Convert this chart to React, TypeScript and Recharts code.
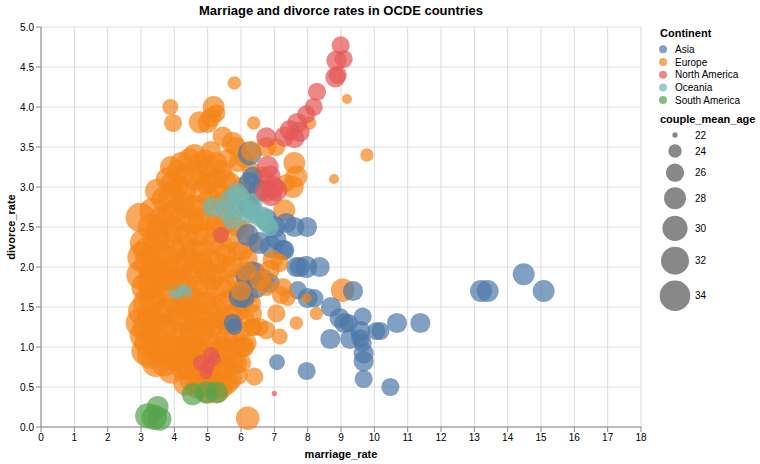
import React from 'react';
import { ScatterChart, Scatter, XAxis, YAxis, ZAxis, CartesianGrid, Legend, Label } from 'recharts';

type P = [number, number, number];

const continents = ['Asia', 'Europe', 'North America', 'Oceania', 'South America'];
const colors = ['#4c78a8', '#f58518', '#e45756', '#72b7b2', '#54a24b'];
const sizeLegendAges = [22, 24, 26, 28, 30, 32, 34];
const xTicks = [0, 1, 2, 3, 4, 5, 6, 7, 8, 9, 10, 11, 12, 13, 14, 15, 16, 17, 18];
const yTicks = [0, 0.5, 1, 1.5, 2, 2.5, 3, 3.5, 4, 4.5, 5];

// [marriage_rate, divorce_rate, couple_mean_age]
const europe: P[] = [
  [2.98, 2.62, 33], [3.1, 2.3, 33], [3.05, 2.12, 34], [3.2, 2.2, 32], [3.0, 1.9, 33], [3.15, 1.75, 33],
  [3.05, 1.45, 33], [3.0, 1.3, 34], [3.1, 1.15, 33], [3.15, 0.95, 33], [3.3, 0.9, 32], [3.3, 1.35, 32],
  [3.35, 1.6, 31], [3.4, 1.95, 32], [3.3, 2.5, 31], [3.45, 2.35, 31], [3.5, 1.1, 32], [3.45, 0.8, 32],
  [3.6, 2.6, 30], [3.7, 2.85, 30], [3.8, 2.4, 31], [3.6, 2.15, 31], [3.75, 1.95, 31], [3.65, 1.7, 31],
  [3.8, 1.45, 31], [3.7, 1.25, 31], [3.85, 1.0, 31], [3.7, 0.8, 31], [3.9, 0.7, 30], [3.95, 3.05, 29],
  [3.9, 3.25, 28], [4.0, 2.7, 30], [4.0, 2.2, 30],
  [4.2, 3.3, 28], [4.1, 3.0, 29], [4.3, 2.95, 29], [4.2, 2.6, 30], [4.35, 2.4, 30], [4.15, 2.0, 30],
  [4.4, 2.1, 30], [4.3, 1.8, 30], [4.2, 1.5, 30], [4.45, 1.35, 30], [4.25, 1.15, 30], [4.4, 0.95, 30],
  [4.25, 0.75, 30], [4.5, 0.6, 29], [4.35, 0.55, 30],
  [4.6, 3.4, 28], [4.75, 3.3, 28], [4.9, 3.35, 27], [4.6, 3.1, 29], [4.8, 2.95, 29], [4.65, 2.75, 29],
  [4.9, 2.6, 29], [4.7, 2.4, 29], [4.85, 2.2, 29], [4.6, 2.0, 29], [4.95, 1.95, 29], [4.7, 1.75, 29],
  [4.9, 1.55, 29], [4.6, 1.4, 30], [4.85, 1.2, 29], [4.7, 1.0, 29], [4.95, 0.95, 29], [4.65, 0.8, 29],
  [4.9, 0.65, 29], [4.8, 0.55, 30],
  [5.1, 3.45, 27], [5.25, 3.3, 28], [5.4, 3.2, 28], [5.1, 3.05, 28], [5.35, 2.95, 28], [5.2, 2.75, 28],
  [5.4, 2.5, 28], [5.15, 2.3, 28], [5.3, 2.05, 28], [5.1, 1.85, 29], [5.4, 1.75, 28], [5.2, 1.5, 28],
  [5.45, 1.35, 28], [5.1, 1.25, 29], [5.3, 1.05, 29], [5.15, 0.85, 29], [5.4, 0.7, 29], [5.2, 0.55, 29],
  [5.3, 0.45, 29], [5.0, 0.45, 30],
  [5.6, 3.35, 27], [5.7, 3.05, 27], [5.9, 3.3, 26], [5.55, 2.85, 28], [5.8, 2.7, 27], [5.65, 2.35, 28],
  [5.9, 2.2, 27], [5.6, 2.0, 28], [5.85, 1.85, 27], [5.7, 1.6, 28], [5.95, 1.45, 27], [5.6, 1.3, 28],
  [5.8, 1.15, 28], [5.6, 0.95, 28], [5.85, 0.8, 28], [5.7, 0.6, 28],
  [6.1, 3.35, 26], [6.3, 3.2, 26], [6.05, 3.0, 27], [6.25, 2.75, 27], [6.1, 2.45, 27], [6.4, 2.3, 26],
  [6.2, 2.1, 27], [6.45, 1.95, 26], [6.1, 1.75, 27], [6.3, 1.55, 27], [6.1, 1.35, 27], [6.35, 1.25, 26],
  [6.1, 1.0, 27],
  [3.25, 2.05, 33], [3.2, 1.55, 33], [3.25, 1.05, 33], [3.35, 2.7, 31], [3.5, 2.95, 30], [3.3, 1.8, 33],
  [3.2, 1.25, 33], [3.55, 2.45, 31], [3.5, 1.85, 31], [3.55, 1.4, 31], [3.6, 0.95, 31], [3.85, 2.65, 30],
  [3.85, 2.1, 30], [3.9, 1.6, 30], [3.95, 1.2, 30], [3.8, 3.1, 29], [4.0, 0.85, 30], [3.9, 2.9, 30],
  [4.1, 3.2, 28], [4.05, 2.45, 30], [4.1, 1.85, 30], [4.05, 1.35, 30], [4.1, 0.95, 30], [4.3, 3.15, 28],
  [4.25, 2.8, 29], [4.3, 2.25, 30], [4.35, 1.6, 30], [4.3, 1.0, 30], [4.45, 2.75, 29], [4.45, 1.9, 30],
  [4.5, 1.1, 30], [4.4, 0.75, 30], [4.45, 3.35, 28],
  [4.55, 2.55, 29], [4.55, 2.2, 29], [4.55, 1.6, 30], [4.55, 1.2, 30], [4.55, 0.85, 30], [4.75, 3.15, 28],
  [4.75, 2.6, 29], [4.8, 2.05, 29], [4.75, 1.4, 29], [4.8, 0.9, 29], [4.95, 3.05, 28], [4.95, 2.4, 29],
  [4.95, 1.75, 29], [4.95, 1.3, 29], [4.75, 0.7, 29], [4.7, 0.5, 29],
  [5.05, 3.25, 28], [5.05, 2.85, 28], [5.05, 2.1, 28], [5.05, 1.55, 29], [5.05, 1.05, 29], [5.05, 0.65, 29],
  [5.25, 3.1, 28], [5.25, 2.5, 28], [5.25, 1.9, 28], [5.25, 1.3, 28], [5.25, 0.7, 29], [5.45, 2.8, 28],
  [5.45, 2.25, 28], [5.45, 1.55, 28], [5.45, 1.0, 28], [5.45, 0.5, 28],
  [5.55, 3.1, 27], [5.55, 2.55, 28], [5.55, 2.15, 28], [5.55, 1.75, 28], [5.55, 1.1, 28], [5.55, 0.75, 28],
  [5.75, 2.9, 27], [5.75, 2.0, 28], [5.75, 1.4, 28], [5.75, 0.85, 28], [5.9, 2.5, 27], [5.9, 1.65, 27],
  [5.9, 1.0, 27], [5.9, 0.65, 27], [5.6, 0.55, 28],
  [6.05, 2.2, 27], [6.0, 1.55, 27], [6.0, 1.2, 27], [6.2, 2.95, 26], [6.25, 1.65, 26], [6.0, 0.8, 27],
  [3.88, 4.0, 25], [3.96, 3.8, 26], [4.76, 3.81, 28], [5.0, 3.8, 27], [5.18, 4.0, 28], [5.26, 3.92, 26],
  [5.1, 3.87, 27], [5.45, 3.63, 27], [5.75, 3.55, 28], [5.8, 4.3, 24], [6.38, 3.8, 24], [8.06, 3.8, 24],
  [9.18, 4.1, 23], [9.78, 3.4, 24], [8.79, 3.1, 23], [7.06, 3.5, 26], [6.76, 3.5, 27], [5.86, 3.5, 27],
  [6.65, 3.13, 27], [7.36, 3.05, 26], [7.3, 2.71, 28], [6.2, 0.11, 29], [6.4, 0.63, 26], [6.05, 1.0, 27],
  [7.66, 1.3, 24], [8.26, 1.42, 24], [7.16, 1.13, 25], [9.05, 1.71, 29],
];

const asia: P[] = [
  [7.98, 2.5, 27], [7.6, 2.5, 27], [7.3, 2.21, 27], [7.66, 2.0, 27], [7.96, 2.0, 28], [8.36, 2.0, 27],
  [7.76, 2.0, 27], [9.36, 1.7, 27], [7.7, 1.71, 26], [8.0, 1.61, 27], [8.2, 1.61, 26], [8.7, 1.5, 27],
  [8.96, 1.36, 27], [9.1, 1.3, 27], [9.23, 1.3, 26], [9.58, 1.2, 27], [10.18, 1.2, 26], [10.68, 1.3, 27],
  [11.38, 1.3, 27], [8.68, 1.1, 27], [9.28, 1.1, 27], [9.58, 1.11, 26], [9.68, 0.92, 27], [9.68, 0.82, 27],
  [9.68, 0.6, 26], [10.48, 0.5, 26], [7.97, 0.7, 26], [7.08, 0.81, 25], [13.2, 1.7, 28], [13.4, 1.7, 28],
  [14.48, 1.91, 28], [15.08, 1.7, 28], [9.65, 1.38, 26], [9.65, 1.05, 26], [10.06, 1.2, 26],
  [5.96, 1.63, 28], [6.46, 1.75, 28], [6.66, 1.84, 28], [6.86, 1.8, 27], [6.17, 1.88, 28], [6.36, 1.93, 28],
  [6.1, 1.61, 27], [5.75, 1.3, 26], [5.8, 1.25, 25], [6.26, 3.42, 29], [6.26, 3.05, 28], [6.35, 3.13, 27],
  [6.55, 2.96, 28], [6.26, 2.75, 28], [6.76, 2.59, 28], [7.36, 2.55, 27], [6.55, 2.3, 28], [6.9, 2.25, 28],
  [7.06, 2.35, 27], [7.25, 2.21, 27], [6.2, 2.4, 28], [7.0, 2.5, 28],
];

const oceania: P[] = [
  [5.96, 2.88, 27], [6.35, 2.8, 27], [6.66, 2.63, 27], [6.86, 2.5, 26], [5.75, 2.59, 27], [6.16, 2.67, 27],
  [5.15, 2.75, 27], [5.55, 2.71, 27], [5.66, 2.84, 27], [5.86, 2.93, 27], [6.05, 2.75, 27], [6.35, 2.67, 27],
  [6.55, 2.63, 27], [6.76, 2.55, 26], [4.05, 1.7, 25], [4.3, 1.68, 25],
];

const europeFront: P[] = [
  [7.6, 3.3, 28], [7.66, 3.13, 28], [7.55, 3.0, 28], [6.95, 2.09, 27], [7.16, 2.05, 26], [6.86, 1.96, 27],
  [6.56, 1.84, 27], [6.76, 1.75, 26], [7.26, 1.75, 26], [7.2, 1.65, 26], [7.4, 1.61, 25], [6.36, 1.42, 26],
  [7.06, 1.42, 26], [6.76, 1.21, 26], [6.56, 1.25, 26], [6.36, 1.25, 26], [7.97, 1.61, 23], [6.2, 1.05, 26],
  [6.3, 3.45, 27], [6.15, 1.95, 27], [6.0, 1.7, 27], [4.35, 1.5, 29], [3.9, 1.85, 29],
];

const northAmerica: P[] = [
  [8.99, 4.77, 26], [8.86, 4.58, 27], [9.08, 4.6, 26], [8.83, 4.37, 27], [8.9, 4.4, 26], [8.28, 4.19, 26],
  [8.18, 4.0, 26], [7.96, 3.91, 26], [7.69, 3.8, 27], [7.76, 3.69, 27], [7.46, 3.71, 27], [7.6, 3.61, 27],
  [7.3, 3.63, 27], [6.76, 3.62, 27], [6.86, 3.13, 28], [6.95, 3.0, 28], [7.06, 2.96, 28], [6.8, 3.25, 28],
  [6.75, 2.95, 28], [6.9, 2.9, 28], [5.4, 2.4, 25],
  [4.8, 0.8, 25], [5.0, 0.75, 24], [5.1, 0.9, 25], [5.2, 0.85, 24], [4.95, 0.68, 24], [7.0, 0.42, 22],
];

const southAmerica: P[] = [
  [3.2, 0.14, 30], [3.4, 0.12, 30], [3.5, 0.25, 28], [3.56, 0.1, 29], [4.55, 0.41, 28], [4.96, 0.43, 28],
  [5.27, 0.43, 28],
];

const toRows = (arr: P[]) => arr.map(([x, y, z]) => ({ x, y, z }));

const Z_DOMAIN: [number, number] = [22, 34];
const Z_RANGE: [number, number] = [22, 735];
const radiusFor = (age: number) => {
  const s = Z_RANGE[0] + ((age - Z_DOMAIN[0]) / (Z_DOMAIN[1] - Z_DOMAIN[0])) * (Z_RANGE[1] - Z_RANGE[0]);
  return Math.sqrt(s / Math.PI);
};

const FONT = 'Liberation Sans, Arial, Helvetica, sans-serif';
const sizeRowY = [135, 151, 172.7, 198.3, 228.3, 260.7, 295.7];

const LegendOverlay = () => (
  <svg width={760} height={464} style={{ position: 'absolute', left: 0, top: 0, pointerEvents: 'none' }}>
    <text x={341} y={15} textAnchor="middle" fontFamily={FONT} fontSize={13} fontWeight="bold" fill="#000">
      Marriage and divorce rates in OCDE countries
    </text>
    <text x={660} y={37} fontFamily={FONT} fontSize={11} fontWeight="bold" fill="#000">Continent</text>
    {continents.map((c, i) => (
      <g key={c}>
        <circle cx={663} cy={49.3 + i * 12.7} r={4} fill={colors[i]} fillOpacity={0.7} />
        <text x={675} y={49.3 + i * 12.7} dy="0.35em" fontFamily={FONT} fontSize={10} fill="#000">{c}</text>
      </g>
    ))}
    <text x={660} y={123} fontFamily={FONT} fontSize={11} fontWeight="bold" fill="#000">couple_mean_age</text>
    {sizeLegendAges.map((a, i) => (
      <g key={a}>
        <circle cx={675} cy={sizeRowY[i]} r={radiusFor(a)} fill="#888" fillOpacity={1} />
        <text x={695} y={sizeRowY[i]} dy="0.35em" fontFamily={FONT} fontSize={10} fill="#000">{a}</text>
      </g>
    ))}
  </svg>
);

export default function App() {
  const series: { name: string; data: P[]; color: string }[] = [
    { name: 'Europe', data: europe, color: colors[1] },
    { name: 'Asia', data: asia, color: colors[0] },
    { name: 'Oceania', data: oceania, color: colors[3] },
    { name: 'Europe ', data: europeFront, color: colors[1] },
    { name: 'North America', data: northAmerica, color: colors[2] },
    { name: 'South America', data: southAmerica, color: colors[4] },
  ];
  const tickStyle = { fontSize: 10, fill: '#000', fontFamily: FONT };
  return (
    <div style={{ position: 'absolute', left: 0, top: 0, width: 760, height: 464, background: '#fff' }}>
      <ScatterChart width={760} height={464} margin={{ top: 27, right: 119, bottom: 0, left: 0 }}>
        <CartesianGrid stroke="#ddd" strokeWidth={1} />
        <XAxis
          type="number"
          dataKey="x"
          domain={[0, 18]}
          ticks={xTicks}
          interval={0}
          height={37}
          tick={tickStyle}
          tickSize={5}
          tickMargin={2}
          stroke="#888"
          allowDecimals={false}
        >
          <Label value="marriage_rate" position="insideBottom" offset={6} style={{ fontSize: 11, fontWeight: 'bold', fontFamily: FONT, fill: '#000' }} />
        </XAxis>
        <YAxis
          type="number"
          dataKey="y"
          domain={[0, 5]}
          ticks={yTicks}
          interval={0}
          width={41}
          tick={tickStyle}
          tickSize={5}
          tickMargin={2}
          stroke="#888"
          tickFormatter={(v: number) => v.toFixed(1)}
        >
          <Label value="divorce_rate" angle={-90} position="insideLeft" offset={11} style={{ textAnchor: 'middle', fontSize: 11, fontWeight: 'bold', fontFamily: FONT, fill: '#000' }} />
        </YAxis>
        <ZAxis type="number" dataKey="z" domain={Z_DOMAIN} range={Z_RANGE} />
        {series.map((s) => (
          <Scatter
            key={s.name}
            name={s.name}
            data={toRows(s.data)}
            fill={s.color}
            fillOpacity={0.7}
            isAnimationActive={false}
          />
        ))}
        <Legend
          layout="horizontal"
          verticalAlign="middle"
          align="center"
          wrapperStyle={{ position: 'absolute', left: 0, top: 0, width: 760, height: 464, pointerEvents: 'none' }}
          content={() => <LegendOverlay />}
        />
      </ScatterChart>
    </div>
  );
}
